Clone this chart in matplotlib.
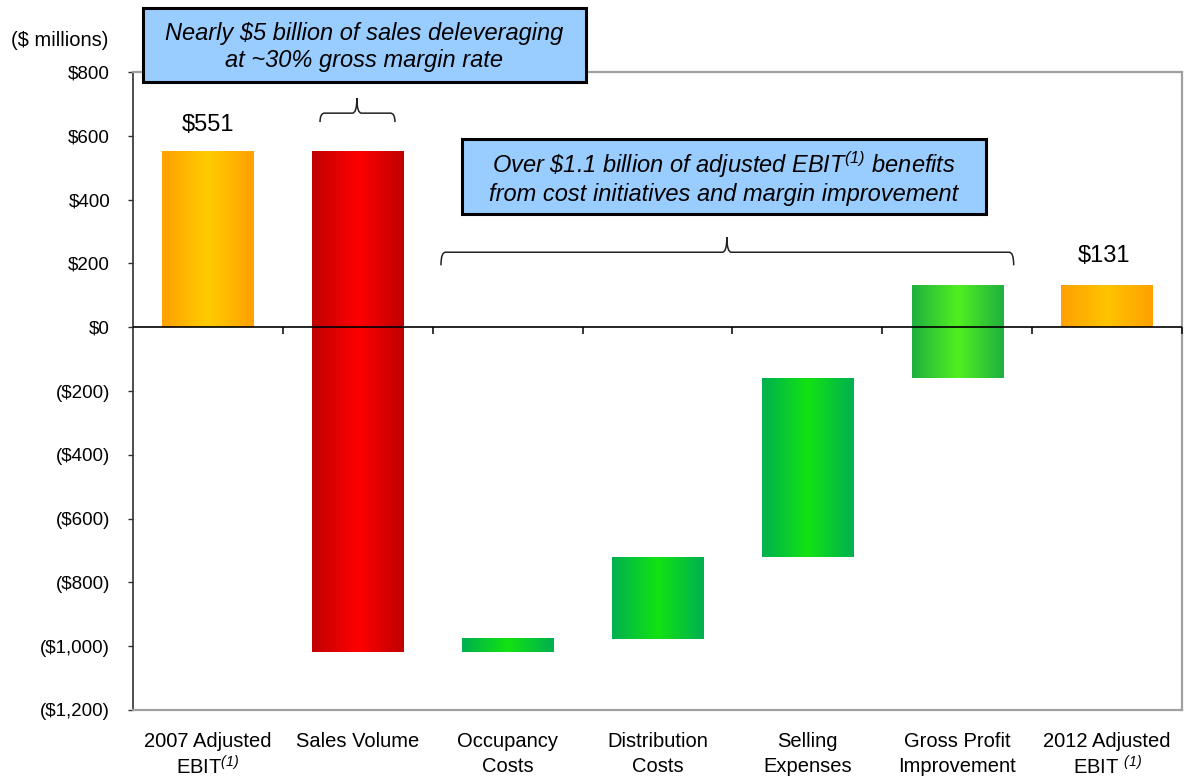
import numpy as np
import matplotlib
matplotlib.use("Agg")
import matplotlib.pyplot as plt
from matplotlib.colors import LinearSegmentedColormap
from matplotlib.patches import Rectangle, PathPatch
from matplotlib.path import Path

plt.rcParams['font.family'] = ['Liberation Sans', 'DejaVu Sans']
plt.rcParams['mathtext.fontset'] = 'custom'
plt.rcParams['mathtext.rm'] = 'Liberation Sans:italic'
plt.rcParams['mathtext.it'] = 'Liberation Sans:italic'
plt.rcParams['mathtext.bf'] = 'Liberation Sans:bold'

# ---------------- data ----------------
categories = [
    "2007 Adjusted\nEBIT$^{(1)}$",
    "Sales Volume",
    "Occupancy\nCosts",
    "Distribution\nCosts",
    "Selling\nExpenses",
    "Gross Profit\nImprovement",
    "2012 Adjusted\nEBIT $^{(1)}$",
]
start_value = 551
deltas = [-1570, 41, 257, 561, 291]
end_value = 131
value_labels = ["$551", "$131"]

ytick_values = [800, 600, 400, 200, 0, -200, -400, -600, -800, -1000, -1200]
ytick_labels = ["$800", "$600", "$400", "$200", "$0", "($200)", "($400)",
                "($600)", "($800)", "($1,000)", "($1,200)"]

# gradient colours per bar (edge, centre)
bar_gradients = [
    ("#ffa000", "#ffcc00"),
    ("#c00000", "#ff0000"),
    ("#00b050", "#12e312"),
    ("#00b050", "#12e312"),
    ("#00b050", "#12e312"),
    ("#20b040", "#50f020"),
    ("#ffa000", "#ffc400"),
]

box1_text = "Nearly $5 billion of sales deleveraging\nat ~30% gross margin rate"
box2_text = ("Over \\$1.1 billion of adjusted EBIT$^{(1)}$ benefits\n"
             "from cost initiatives and margin improvement")

# ---------------- compute waterfall ----------------
bottoms = [0]
heights = [start_value]
level = start_value
for d in deltas:
    bottoms.append(level)
    heights.append(d)
    level += d
bottoms.append(0)
heights.append(end_value)

W, H = 1185, 780
fig = plt.figure(figsize=(W / 100, H / 100), dpi=100)
ax = fig.add_axes([133 / W, 70 / H, (1182 - 133) / W, (710 - 72) / H])

x = np.arange(len(categories))
bars = ax.bar(x, heights, bottom=bottoms, width=0.61, color='none',
              edgecolor='none', zorder=2)

grad = np.linspace(0, 1, 256).reshape(1, -1)
for patch, (edge, centre) in zip(bars.patches, bar_gradients):
    cmap = LinearSegmentedColormap.from_list("g", [edge, centre, edge])
    x0 = patch.get_x()
    y0 = patch.get_y()
    ax.imshow(grad, extent=(x0, x0 + patch.get_width(), y0, y0 + patch.get_height()),
              cmap=cmap, aspect='auto', interpolation='bicubic', zorder=2)

ax.set_xlim(-0.5, len(categories) - 0.5)
ax.set_ylim(-1200, 800)

# zero line with boundary ticks
ax.axhline(0, color='black', lw=1.2, zorder=3)
bounds = np.arange(len(categories)) + 0.5
ax.plot(bounds, np.zeros_like(bounds), ls='none', marker=3, ms=5, mew=1.1,
        color='black', zorder=3, clip_on=False)

# spines
for s in ['top', 'right', 'bottom']:
    ax.spines[s].set_color('#a0a0a0')
    ax.spines[s].set_linewidth(1.6)
ax.spines['left'].set_color('#303030')
ax.spines['left'].set_linewidth(1.2)

ax.set_yticks(ytick_values)
ax.set_yticklabels(ytick_labels, fontsize=13.5)
ax.tick_params(axis='y', length=3.5, width=1, color='#303030', pad=13)
ax.set_xticks(x)
ax.set_xticklabels(categories, fontsize=14.5, linespacing=1.4)
for lab in ax.get_xticklabels():
    if '$' in lab.get_text():
        lab.set_linespacing(1.22)
ax.tick_params(axis='x', length=0, pad=16)

# value labels
ax.annotate(value_labels[0], (x[0], start_value), xytext=(0, 19),
            textcoords='offset points', ha='center', va='center', fontsize=17)
ax.annotate(value_labels[1], (x[-1], end_value), xytext=(-2, 21),
            textcoords='offset points', ha='center', va='center', fontsize=17)

# braces
def brace(x0, x1, xc, y_end, y_mid, y_tip, dx):
    verts = [(x0, y_end), (x0, y_mid), (x0 + dx, y_mid),
             (xc - dx, y_mid), (xc, y_mid), (xc, y_tip),
             (xc, y_mid), (xc + dx, y_mid),
             (x1 - dx, y_mid), (x1, y_mid), (x1, y_end)]
    codes = [Path.MOVETO, Path.CURVE3, Path.CURVE3,
             Path.LINETO, Path.CURVE3, Path.CURVE3,
             Path.CURVE3, Path.CURVE3,
             Path.LINETO, Path.CURVE3, Path.CURVE3]
    ax.add_patch(PathPatch(Path(verts, codes), fill=False, lw=1.1,
                           edgecolor='#222222', clip_on=False, zorder=4))

brace(0.748, 1.248, 0.994, 643, 671, 718, 0.03)
brace(1.555, 5.377, 3.463, 194, 235, 282, 0.03)

# annotation boxes
def box(px0, py0, px1, py1, text, dy):
    fig.patches.append(Rectangle((px0 / W, 1 - py1 / H), (px1 - px0) / W,
                                 (py1 - py0) / H, transform=fig.transFigure,
                                 facecolor='#99ccff', edgecolor='black',
                                 lw=2.2, zorder=5))
    fig.text((px0 + px1) / 2 / W, 1 - ((py0 + py1) / 2 + dy) / H, text,
             ha='center', va='center', fontsize=17, style='italic',
             linespacing=1.2, zorder=6)

box(143, 8, 586, 82, box1_text, 2)
box(462, 139, 986, 214, box2_text, 1)

fig.text(60 / W, 1 - 40 / H, "($ millions)", ha='center', va='center',
         fontsize=14.5)

fig.savefig("out.png", dpi=100, facecolor='white')
